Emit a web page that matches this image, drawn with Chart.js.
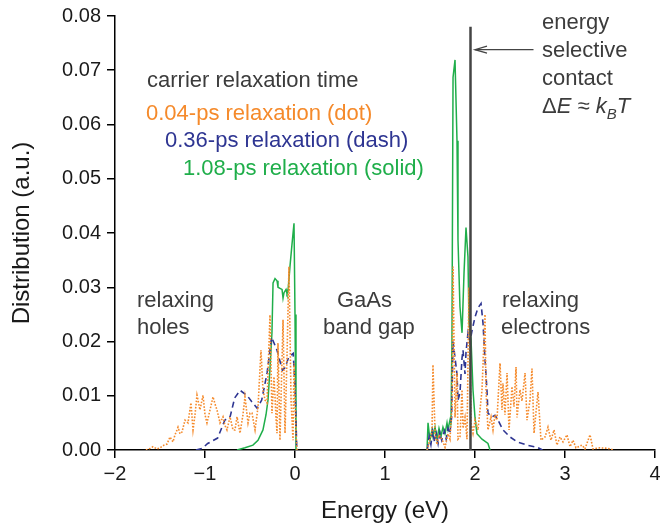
<!DOCTYPE html>
<html>
<head>
<meta charset="utf-8">
<script src="https://cdn.jsdelivr.net/npm/chart.js@4/dist/chart.umd.min.js"></script>
<style>
html,body{margin:0;padding:0;background:#fff;}
canvas{display:block;}
</style>
</head>
<body>
<canvas id="c" width="660" height="528"></canvas>
<script>
// ---------- data ----------
const seriesNames = ['0.04-ps relaxation (dot)', '0.36-ps relaxation (dash)', '1.08-ps relaxation (solid)'];
const legendTitle = 'carrier relaxation time';
const xTicks = [-2, -1, 0, 1, 2, 3, 4];
const yTicks = [0, 0.01, 0.02, 0.03, 0.04, 0.05, 0.06, 0.07, 0.08];

// dotted (0.04 ps) — holes then electrons
const dotHolesE = [-1.656,-1.611,-1.578,-1.533,-1.5,-1.456,-1.422,-1.389,-1.356,-1.333,-1.311,-1.3,-1.278,-1.256,-1.222,-1.189,-1.156,-1.133,-1.111,-1.089,-1.056,-1.022,-1.0,-0.978,-0.944,-0.911,-0.889,-0.867,-0.833,-0.8,-0.778,-0.756,-0.722,-0.689,-0.667,-0.644,-0.611,-0.578,-0.556,-0.522,-0.5,-0.478,-0.444,-0.411,-0.378,-0.356,-0.333,-0.311,-0.278,-0.256,-0.233,-0.211,-0.2,-0.189,-0.167,-0.133,-0.111,-0.089,-0.067,-0.044,-0.022,-0.011,0.011,0.022];
const dotHolesD = [0,0.0003,0.0006,0.0002,0.0004,0.0009,0.0011,0.0024,0.0015,0.0028,0.0037,0.0042,0.0030,0.0033,0.0055,0.0050,0.0087,0.0037,0.0065,0.0101,0.0074,0.0101,0.0065,0.0050,0.0074,0.0098,0.0085,0.0074,0.0050,0.0061,0.0045,0.0037,0.0061,0.0037,0.0037,0.0061,0.0031,0.0065,0.0098,0.0050,0.0068,0.0068,0.0037,0.0079,0.0184,0.0111,0.0092,0.0087,0.0249,0.0068,0.0135,0.0060,0.0031,0.0197,0.0018,0.0240,0.0031,0.0171,0.0338,0.0092,0.0018,0.0160,0.0031,0];
const dotElecE = [1.467,1.478,1.5,1.522,1.533,1.556,1.578,1.6,1.633,1.667,1.7,1.722,1.744,1.756,1.778,1.8,1.811,1.833,1.856,1.867,1.889,1.911,1.933,1.956,1.978,2.0,2.033,2.078,2.111,2.122,2.144,2.178,2.2,2.222,2.244,2.278,2.3,2.311,2.333,2.356,2.378,2.411,2.433,2.456,2.467,2.5,2.522,2.556,2.578,2.611,2.633,2.656,2.678,2.7,2.733,2.778,2.811,2.844,2.878,2.911,2.944,2.978,3.022,3.056,3.089,3.122,3.189,3.222,3.278,3.311,3.389,3.478,3.544];
const dotElecD = [0,0.0006,0.0020,0.0033,0.0157,0.0031,0.0010,0.0028,0.0020,0.0005,0.0030,0.0020,0.0079,0.0338,0.0060,0.0142,0.0020,0.0024,0.0111,0.0040,0.0060,0.0020,0.0300,0.0050,0.0031,0.0055,0.0037,0.0111,0.0250,0.0111,0.0037,0.0061,0.0037,0.0065,0.0055,0.0160,0.0074,0.0123,0.0065,0.0142,0.0037,0.0117,0.0080,0.0153,0.0060,0.0111,0.0090,0.0142,0.0055,0.0092,0.0150,0.0031,0.0070,0.0107,0.0018,0.0024,0.0042,0.0018,0.0037,0.0009,0.0024,0.0015,0.0028,0.0006,0.0018,0.0004,0.0009,0.0002,0.0028,0.0002,0.0004,0.0003,0];

// dashed (0.36 ps)
const dashHolesE = [-1.10,-1.03,-0.97,-0.86,-0.78,-0.72,-0.67,-0.61,-0.53,-0.48,-0.42,-0.37,-0.31,-0.26,-0.20,-0.14,-0.11,-0.07,-0.02,0.0,0.02];
const dashHolesD = [0,0.0003,0.0012,0.0022,0.0055,0.0062,0.0096,0.0110,0.0100,0.0089,0.0077,0.0092,0.0142,0.0208,0.0184,0.0147,0.0152,0.0171,0.0178,0.012,0];
const dashElecE = [1.47,1.49,1.51,1.53,1.55,1.57,1.59,1.61,1.63,1.66,1.68,1.70,1.72,1.74,1.756,1.778,1.80,1.811,1.833,1.856,1.867,1.889,1.90,1.922,1.944,1.967,2.0,2.033,2.067,2.089,2.11,2.133,2.144,2.189,2.222,2.256,2.311,2.389,2.467,2.578,2.689,2.75];
const dashElecD = [0,0.0025,0.0010,0.0035,0.0015,0.0030,0.0012,0.0032,0.0018,0.0035,0.0020,0.0040,0.0030,0.0060,0.020,0.017,0.014,0.0092,0.0105,0.017,0.0184,0.014,0.018,0.0216,0.020,0.022,0.0245,0.0262,0.027,0.0234,0.017,0.011,0.0068,0.0061,0.0064,0.0055,0.0037,0.0024,0.0015,0.0009,0.0005,0];

// solid (1.08 ps)
const solidHolesE = [-0.644,-0.556,-0.467,-0.411,-0.356,-0.322,-0.300,-0.278,-0.256,-0.244,-0.222,-0.200,-0.189,-0.167,-0.144,-0.133,-0.122,-0.100,-0.089,-0.078,-0.056,-0.033,-0.011,0.0,0.011];
const solidHolesD = [0,0.0004,0.0009,0.0018,0.0037,0.0065,0.0092,0.015,0.0216,0.0308,0.0316,0.0312,0.0300,0.0298,0.0296,0.0280,0.0290,0.0296,0.0288,0.0292,0.0338,0.0380,0.0418,0.025,0];
const solidElecE = [1.467,1.478,1.50,1.522,1.533,1.556,1.578,1.60,1.622,1.644,1.667,1.689,1.70,1.722,1.733,1.744,1.756,1.778,1.80,1.811,1.833,1.856,1.878,1.90,1.922,1.933,1.956,1.978,2.0,2.022,2.078,2.144,2.167];
const solidElecD = [0,0.0050,0.0018,0.0037,0.0025,0.0042,0.0020,0.0040,0.0025,0.0042,0.0030,0.0050,0.0038,0.0055,0.0045,0.020,0.0687,0.0719,0.057,0.0387,0.0264,0.0216,0.0326,0.041,0.0356,0.0234,0.0203,0.011,0.0060,0.0030,0.0020,0.0012,0];

// energy-selective contact
const contactE = [1.95, 1.95];
const contactD = [0, 0.078];
// ------------------------------------------------------------

const FONT = '"Liberation Sans", Arial, Helvetica, sans-serif';
const COL = { dot: '#f58a2b', dash: '#2e3592', solid: '#1fae4a', text: '#3c3c3c', contact: '#444444' };

function pts(e1, d1, e2, d2) {
  const a = e1.map((e, i) => ({ x: e, y: d1[i] }));
  if (e2) {
    a.push({ x: (e1[e1.length - 1] + e2[0]) / 2, y: null });
    e2.forEach((e, i) => a.push({ x: e, y: d2[i] }));
  }
  return a;
}
const fmtMinus = s => String(s).replace('-', '\u2212');

const annot = {
  id: 'annot',
  afterDraw(chart) {
    const ctx = chart.ctx;
    const xs = chart.scales.x, ys = chart.scales.y;
    ctx.save();
    ctx.textBaseline = 'alphabetic';
    ctx.textAlign = 'left';
    const T = (s, x, y, c, f) => { ctx.font = f || `22px ${FONT}`; ctx.fillStyle = c || COL.text; ctx.fillText(s, x, y); return ctx.measureText(s).width; };

    T(legendTitle, 147, 87);
    T(seriesNames[0], 146, 120, COL.dot);
    T(seriesNames[1], 165, 147, COL.dash);
    T(seriesNames[2], 183, 175, COL.solid);

    T('relaxing', 137, 307);
    T('holes', 137, 334);
    T('GaAs', 337, 307);
    T('band gap', 323, 334);
    T('relaxing', 502, 307);
    T('electrons', 501, 334);

    T('energy', 542, 29);
    T('selective', 542, 57);
    T('contact', 542, 85);
    let x = 542, y = 113;
    x += T('\u0394', x, y);
    x += T('E', x, y, null, `italic 22px ${FONT}`);
    x += T(' \u2248 ', x, y);
    x += T('k', x, y, null, `italic 22px ${FONT}`);
    x += T('B', x, y + 6, null, `italic 15px ${FONT}`);
    T('T', x, y, null, `italic 22px ${FONT}`);

    // arrow pointing at contact
    const ay = ys.getPixelForValue(0.0738);
    const ax0 = xs.getPixelForValue(2.65), ax1 = xs.getPixelForValue(2.0);
    ctx.strokeStyle = COL.contact; ctx.lineWidth = 1.3;
    ctx.beginPath(); ctx.moveTo(ax0, ay); ctx.lineTo(ax1, ay); ctx.stroke();
    ctx.beginPath(); ctx.moveTo(ax1 + 12, ay - 3.5); ctx.lineTo(ax1, ay); ctx.lineTo(ax1 + 12, ay + 3.5); ctx.stroke();
    ctx.restore();
  }
};

const common = { pointRadius: 0, fill: false, tension: 0, spanGaps: false };

new Chart(document.getElementById('c'), {
  type: 'line',
  data: {
    datasets: [
      Object.assign({ data: pts(contactE, contactD), borderColor: COL.contact, borderWidth: 2.5 }, common),
      Object.assign({ label: seriesNames[0], data: pts(dotHolesE, dotHolesD, dotElecE, dotElecD), borderColor: COL.dot, borderWidth: 1.6, borderDash: [1.6, 1.6] }, common),
      Object.assign({ label: seriesNames[1], data: pts(dashHolesE, dashHolesD, dashElecE, dashElecD), borderColor: COL.dash, borderWidth: 1.6, borderDash: [6, 4] }, common),
      Object.assign({ label: seriesNames[2], data: pts(solidHolesE, solidHolesD, solidElecE, solidElecD), borderColor: COL.solid, borderWidth: 1.5 }, common)
    ]
  },
  options: {
    responsive: false,
    devicePixelRatio: 1,
    animation: false,
    layout: { padding: { left: 0, right: 5, top: 16, bottom: 0 } },
    plugins: { legend: { display: false }, tooltip: { enabled: false } },
    scales: {
      x: {
        type: 'linear', min: xTicks[0], max: xTicks[xTicks.length - 1],
        afterBuildTicks: s => { s.ticks = xTicks.map(v => ({ value: v })); },
        ticks: { font: { family: FONT, size: 20 }, color: '#1a1a1a', padding: 4, maxRotation: 0, callback: v => fmtMinus(v) },
        grid: { drawOnChartArea: false, drawTicks: true, tickLength: 8, color: '#000', lineWidth: 1.5 },
        border: { display: true, color: '#000', width: 1.5 },
        title: { display: true, text: 'Energy (eV)', font: { family: FONT, size: 24 }, color: '#1a1a1a', padding: { top: 0, bottom: 2 } },
        afterFit: s => { s.height = 78; s.paddingLeft = 0; s.paddingRight = 0; }
      },
      y: {
        type: 'linear', min: yTicks[0], max: yTicks[yTicks.length - 1],
        afterBuildTicks: s => { s.ticks = yTicks.map(v => ({ value: v })); },
        ticks: { font: { family: FONT, size: 20 }, color: '#1a1a1a', padding: 6, callback: v => Number(v).toFixed(2) },
        grid: { drawOnChartArea: false, drawTicks: true, tickLength: 8, color: '#000', lineWidth: 1.5 },
        border: { display: true, color: '#000', width: 1.5 },
        title: { display: true, text: 'Distribution (a.u.)', font: { family: FONT, size: 24 }, color: '#1a1a1a', padding: { top: 8, bottom: 0 } },
        afterFit: s => { s.width = 115; s.paddingTop = 0; s.paddingBottom = 0; }
      }
    }
  },
  plugins: [annot]
});
</script>
</body>
</html>
